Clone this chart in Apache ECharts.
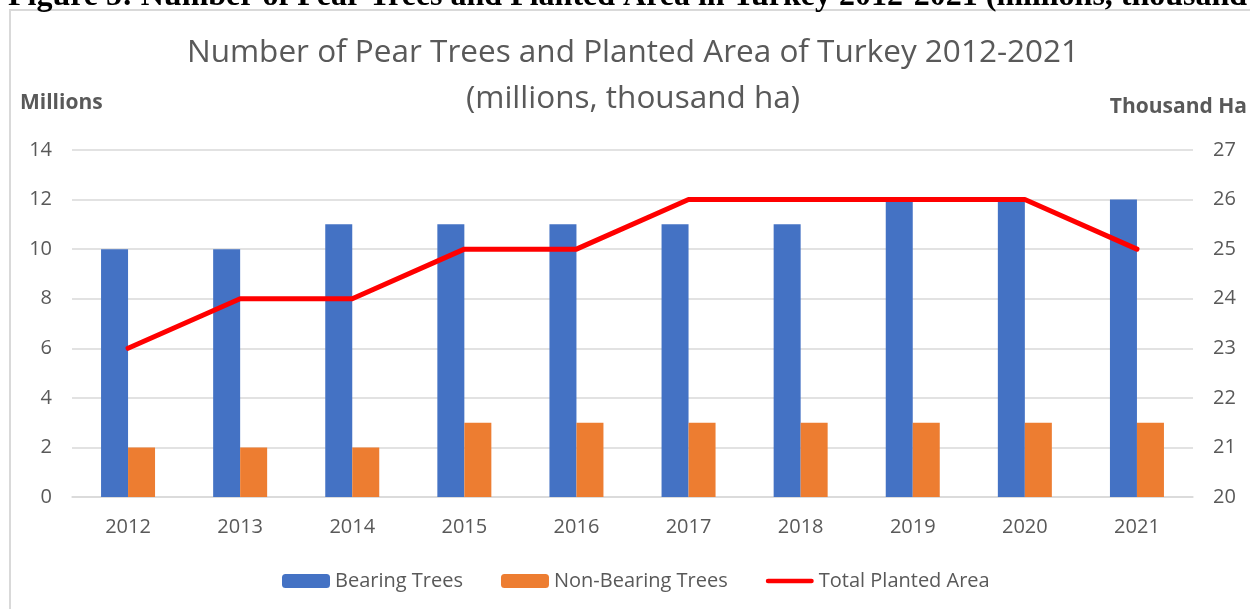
<!DOCTYPE html>
<html>
<head>
<meta charset="utf-8">
<script src="https://cdn.jsdelivr.net/npm/echarts@6/dist/echarts.min.js"></script>
<style>
html,body{margin:0;padding:0;background:#fff;}
#chart{width:1250px;height:609px;}
</style>
</head>
<body>
<div id="chart"></div>
<script>
const years = ['2012','2013','2014','2015','2016','2017','2018','2019','2020','2021'];
const bearingTrees = [10,10,11,11,11,11,11,12,12,12];
const nonBearingTrees = [2,2,2,3,3,3,3,3,3,3];
const totalPlantedArea = [23,24,24,25,25,26,26,26,26,25];
const leftTicks = {min:0, max:14, interval:2};
const rightTicks = {min:20, max:27, interval:1};

const grey = '#595959';
const font = '"Open Sans", sans-serif';
const chart = echarts.init(document.getElementById('chart'), null, {renderer:'canvas'});
chart.setOption({
  animation:false,
  backgroundColor:'#fff',
  textStyle:{fontFamily:font},
  graphic:[
    {type:'rect', shape:{x:10,y:10,width:1300,height:700}, style:{fill:'none', stroke:'#d9d9d9', lineWidth:2}, z:-10},
    {type:'text', x:8, y:-3, style:{text:'Figure 5: Number of Pear Trees and Planted Area in Turkey 2012-2021 (millions, thousand ha)', font:'bold 32px "Liberation Serif", "Times New Roman", serif', fill:'#000', textAlign:'left', textVerticalAlign:'middle'}},
    {type:'text', x:633, y:53, style:{text:'Number of Pear Trees and Planted Area of Turkey 2012-2021', font:'31.5px "Open Sans", sans-serif', fill:grey, textAlign:'center', textVerticalAlign:'middle'}},
    {type:'text', x:633, y:99, style:{text:'(millions, thousand ha)', font:'31.5px "Open Sans", sans-serif', fill:grey, textAlign:'center', textVerticalAlign:'middle'}},
    {type:'text', x:20, y:103, style:{text:'Millions', font:'bold 21px "Open Sans", sans-serif', fill:grey, textAlign:'left', textVerticalAlign:'middle'}},
    {type:'text', x:1247, y:107, style:{text:'Thousand Ha', font:'bold 21px "Open Sans", sans-serif', fill:grey, textAlign:'right', textVerticalAlign:'middle'}}
  ],
  legend:{
    left:277, top:566,
    itemWidth:48, itemHeight:14, itemGap:38,
    textStyle:{fontSize:20, color:grey, fontFamily:font, padding:[0,0,0,0]},
    data:[
      {name:'Bearing Trees'},
      {name:'Non-Bearing Trees'},
      {name:'Total Planted Area', icon:'path://M0,0 M2,4.5 L50,4.5 A2.5,2.5 0 0 1 50,9.5 L2,9.5 A2.5,2.5 0 0 1 2,4.5 Z M52,14'}
    ]
  },
  grid:{left:72, right:57, top:150, bottom:112},
  xAxis:{
    type:'category', data:years,
    axisLine:{lineStyle:{color:'#d9d9d9', width:1.5}},
    axisTick:{show:false},
    axisLabel:{fontSize:20, color:grey, margin:20, fontFamily:font}
  },
  yAxis:[
    {type:'value', min:leftTicks.min, max:leftTicks.max, interval:leftTicks.interval,
     axisLabel:{fontSize:20, color:grey, margin:20, fontFamily:font},
     splitLine:{lineStyle:{color:'#d9d9d9', width:1.5}}, axisLine:{show:false}, axisTick:{show:false}},
    {type:'value', min:rightTicks.min, max:rightTicks.max, interval:rightTicks.interval, position:'right',
     axisLabel:{fontSize:20, color:grey, margin:20, fontFamily:font},
     splitLine:{show:false}, axisLine:{show:false}, axisTick:{show:false}}
  ],
  series:[
    {name:'Bearing Trees', type:'bar', data:bearingTrees, barWidth:27, barGap:'0%', itemStyle:{color:'#4472C4'}},
    {name:'Non-Bearing Trees', type:'bar', data:nonBearingTrees, barWidth:27, barGap:'0%', itemStyle:{color:'#ED7D31'}},
    {name:'Total Planted Area', type:'line', yAxisIndex:1, data:totalPlantedArea, symbol:'none',
     lineStyle:{color:'#FF0000', width:5, cap:'round', join:'round'}, itemStyle:{color:'#FF0000'}, z:5}
  ]
});
</script>
</body>
</html>
